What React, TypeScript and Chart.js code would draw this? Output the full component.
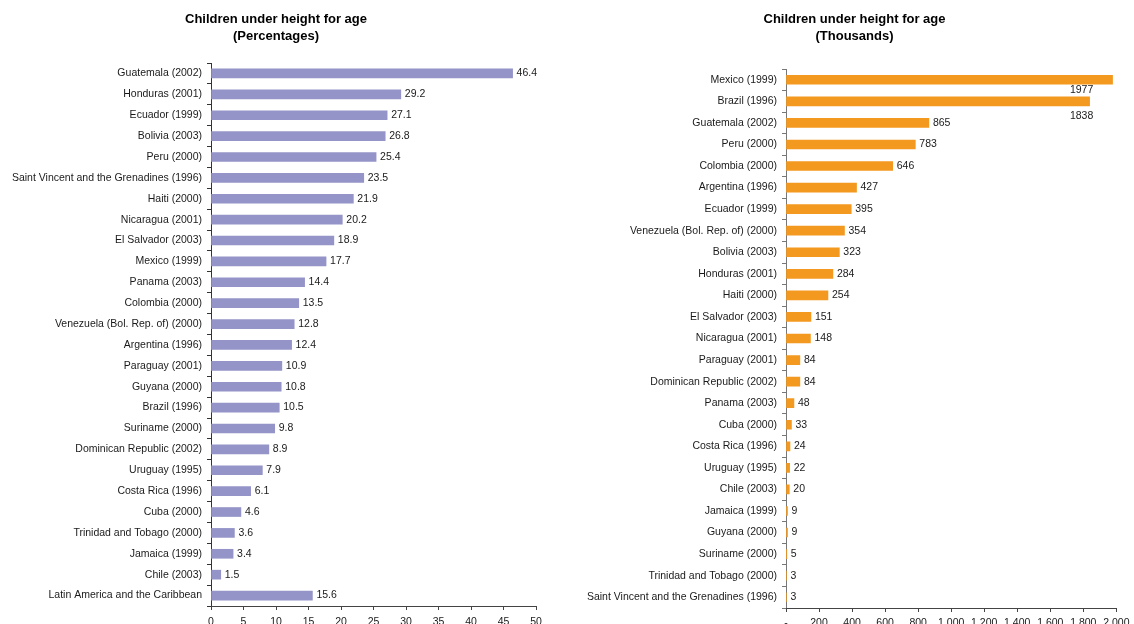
import React, { useEffect, useRef } from 'react';
import { Chart, registerables } from 'chart.js';

Chart.register(...registerables);

const FONT = '"Liberation Sans", Arial, Helvetica, sans-serif';

// Left chart: percentages
const pctTitle = ['Children under height for age', '(Percentages)'];
const pctCategories = [
  'Guatemala (2002)',
  'Honduras (2001)',
  'Ecuador (1999)',
  'Bolivia (2003)',
  'Peru (2000)',
  'Saint Vincent and the Grenadines (1996)',
  'Haiti (2000)',
  'Nicaragua (2001)',
  'El Salvador (2003)',
  'Mexico (1999)',
  'Panama (2003)',
  'Colombia (2000)',
  'Venezuela (Bol. Rep. of) (2000)',
  'Argentina (1996)',
  'Paraguay (2001)',
  'Guyana (2000)',
  'Brazil (1996)',
  'Suriname (2000)',
  'Dominican Republic (2002)',
  'Uruguay (1995)',
  'Costa Rica (1996)',
  'Cuba (2000)',
  'Trinidad and Tobago (2000)',
  'Jamaica (1999)',
  'Chile (2003)',
  'Latin America and the Caribbean',
];
const pctValues = [
  46.4, 29.2, 27.1, 26.8, 25.4, 23.5, 21.9, 20.2, 18.9, 17.7, 14.4, 13.5, 12.8,
  12.4, 10.9, 10.8, 10.5, 9.8, 8.9, 7.9, 6.1, 4.6, 3.6, 3.4, 1.5, 15.6,
];
const pctTickLabels = ['0', '5', '10', '15', '20', '25', '30', '35', '40', '45', '50'];

// Right chart: thousands
const thouTitle = ['Children under height for age', '(Thousands)'];
const thouCategories = [
  'Mexico (1999)',
  'Brazil (1996)',
  'Guatemala (2002)',
  'Peru (2000)',
  'Colombia (2000)',
  'Argentina (1996)',
  'Ecuador (1999)',
  'Venezuela (Bol. Rep. of) (2000)',
  'Bolivia (2003)',
  'Honduras (2001)',
  'Haiti (2000)',
  'El Salvador (2003)',
  'Nicaragua (2001)',
  'Paraguay (2001)',
  'Dominican Republic (2002)',
  'Panama (2003)',
  'Cuba (2000)',
  'Costa Rica (1996)',
  'Uruguay (1995)',
  'Chile (2003)',
  'Jamaica (1999)',
  'Guyana (2000)',
  'Suriname (2000)',
  'Trinidad and Tobago (2000)',
  'Saint Vincent and the Grenadines (1996)',
];
const thouValues = [
  1977, 1838, 865, 783, 646, 427, 395, 354, 323, 284, 254, 151, 148, 84, 84, 48,
  33, 24, 22, 20, 9, 9, 5, 3, 3,
];
const thouTickLabels = ['-', '200', '400', '600', '800', '1 000', '1 200', '1 400', '1 600', '1 800', '2 000'];

type Spec = {
  title: string[];
  categories: string[];
  values: number[];
  tickLabels: string[];
  max: number;
  step: number;
  color: string;
  axisColor: string;
  yWidth: number;
  padR: number;
  padTop: number;
  titleX: number;
  titleY: number;
  xHeight: number;
  xPad: number;
  format: (v: number) => string;
  overflowAt: number | null;
  overflowAnchor: number;
  overflowDrop: number[];
};

function makeLabelPlugin(spec: Spec) {
  return {
    id: 'valueLabels',
    afterDatasetsDraw(chart: any) {
      const { ctx } = chart;
      const meta = chart.getDatasetMeta(0);
      const xs = chart.scales.x;
      ctx.save();
      ctx.font = `10.5px ${FONT}`;
      ctx.fillStyle = '#1a1a1a';
      ctx.textBaseline = 'middle';
      let k = 0;
      meta.data.forEach((bar: any, i: number) => {
        const v = spec.values[i];
        const text = spec.format(v);
        if (spec.overflowAt !== null && v > spec.overflowAt) {
          ctx.textAlign = 'right';
          ctx.fillText(text, xs.getPixelForValue(spec.overflowAnchor), bar.y + spec.overflowDrop[k++]);
        } else {
          ctx.textAlign = 'left';
          ctx.fillText(text, bar.x + 4, bar.y);
        }
      });
      ctx.restore();
    },
  };
}

function makeTitlePlugin(spec: Spec) {
  return {
    id: 'twoLineTitle',
    afterDraw(chart: any) {
      const { ctx } = chart;
      ctx.save();
      ctx.font = `bold 13px ${FONT}`;
      ctx.fillStyle = '#000';
      ctx.textAlign = 'center';
      ctx.textBaseline = 'middle';
      spec.title.forEach((line, i) => {
        ctx.fillText(line, spec.titleX, spec.titleY + i * 17);
      });
      ctx.restore();
    },
  };
}

function makeConfig(spec: Spec): any {
  return {
    type: 'bar',
    data: {
      labels: spec.categories,
      datasets: [
        {
          data: spec.values,
          backgroundColor: spec.color,
          borderWidth: 0,
          barThickness: 9,
        },
      ],
    },
    options: {
      indexAxis: 'y',
      animation: false,
      responsive: false,
      maintainAspectRatio: false,
      events: [],
      layout: { padding: { left: 0, right: spec.padR, top: spec.padTop, bottom: 0 } },
      plugins: {
        legend: { display: false },
        tooltip: { enabled: false },
        title: { display: false },
      },
      scales: {
        y: {
          type: 'category',
          offset: true,
          grid: {
            drawOnChartArea: false,
            offset: true,
            tickLength: 4,
            color: spec.axisColor,
            tickColor: spec.axisColor,
          },
          border: { display: true, color: spec.axisColor, width: 1 },
          ticks: {
            autoSkip: false,
            font: { family: FONT, size: 10.5 },
            color: '#1a1a1a',
            padding: 5,
          },
          afterFit: (s: any) => {
            s.width = spec.yWidth;
          },
        },
        x: {
          type: 'linear',
          min: 0,
          max: spec.max,
          grid: {
            drawOnChartArea: false,
            tickLength: 4,
            color: '#444',
            tickColor: '#444',
          },
          border: { display: true, color: '#444', width: 1 },
          ticks: {
            stepSize: spec.step,
            autoSkip: false,
            maxRotation: 0,
            font: { family: FONT, size: 10.5 },
            color: '#1a1a1a',
            padding: spec.xPad,
            callback: (_v: any, i: number) => spec.tickLabels[i],
          },
          afterFit: (s: any) => {
            s.height = spec.xHeight;
          },
        },
      },
    },
    plugins: [makeLabelPlugin(spec), makeTitlePlugin(spec)],
  };
}

const leftSpec: Spec = {
  title: pctTitle,
  categories: pctCategories,
  values: pctValues,
  tickLabels: pctTickLabels,
  max: 50,
  step: 5,
  color: '#9494C8',
  axisColor: '#333',
  yWidth: 211,
  padR: 24,
  padTop: 63,
  titleX: 276,
  titleY: 19,
  xHeight: 18,
  xPad: 6,
  format: (v) => v.toFixed(1),
  overflowAt: null,
  overflowAnchor: 0,
  overflowDrop: [],
};

const rightSpec: Spec = {
  title: thouTitle,
  categories: thouCategories,
  values: thouValues,
  tickLabels: thouTickLabels,
  max: 2000,
  step: 200,
  color: '#F4991F',
  axisColor: '#777',
  yWidth: 216,
  padR: 16,
  padTop: 69,
  titleX: 284.5,
  titleY: 19,
  xHeight: 16,
  xPad: 4.5,
  format: (v) => String(v),
  overflowAt: 1800,
  overflowAnchor: 1860,
  overflowDrop: [10, 15],
};

function BarChart({ spec, left, width }: { spec: Spec; left: number; width: number }) {
  const ref = useRef<HTMLCanvasElement | null>(null);
  useEffect(() => {
    if (!ref.current) return;
    const chart = new Chart(ref.current, makeConfig(spec));
    return () => chart.destroy();
  }, [spec]);
  return (
    <canvas
      ref={ref}
      width={width}
      height={624}
      style={{ position: 'absolute', left, top: 0, width, height: 624 }}
    />
  );
}

export default function App() {
  return (
    <div
      style={{
        position: 'fixed',
        left: 0,
        top: 0,
        width: 1134,
        height: 624,
        background: '#fff',
        overflow: 'hidden',
      }}
    >
      <BarChart spec={leftSpec} left={0} width={560} />
      <BarChart spec={rightSpec} left={570} width={564} />
    </div>
  );
}
